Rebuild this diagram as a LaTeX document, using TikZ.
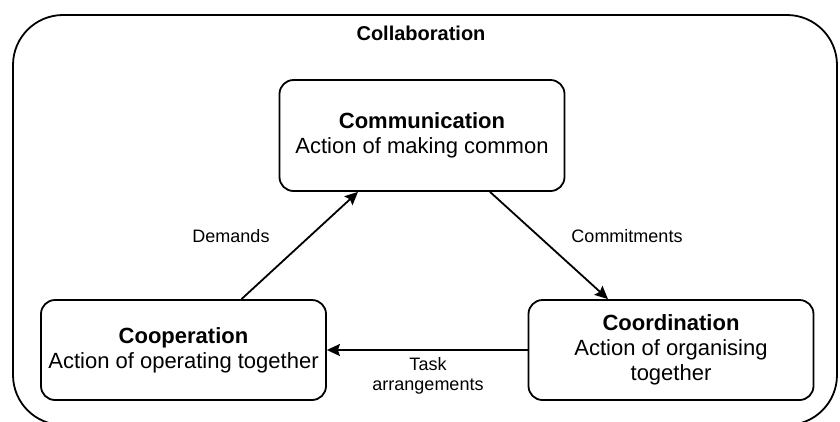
\documentclass[tikz,border=0pt]{standalone}
\usepackage{fontspec}
\setmainfont{Liberation Sans}
\usetikzlibrary{arrows.meta}

\tikzset{
  actbox/.style={draw, line width=1.8bp, rounded corners=14bp, align=center,
    minimum width=285bp, minimum height=100bp, inner sep=0pt,
    font=\fontsize{22bp}{25bp}\selectfont},
  flow/.style={line width=1.8bp, -{Stealth[length=13bp,width=12bp,inset=2bp]}},
  lbl/.style={align=center, font=\fontsize{18bp}{20bp}\selectfont}
}

\begin{document}
\begin{tikzpicture}[x=1bp,y=-1bp]
\useasboundingbox (0,0) rectangle (840,421);
% outer frame
\draw[line width=1.8bp, rounded corners=50bp] (13,15) rectangle (837,425);
\node[font=\bfseries\fontsize{20bp}{24bp}\selectfont] (collab) at (421,33) {Collaboration};

% the three actions
\node[actbox, minimum height=111bp] (comm) at (422,135.5) {\textbf{Communication}\\Action of making common};
\node[actbox] (coop) at (183.5,350) {\textbf{Cooperation}\\Action of operating together};
\node[actbox] (coord) at (671,350) {\textbf{Coordination}\\Action of organising\\together};

\draw[flow] ([xshift=58bp]coop.north) -- ([xshift=-64bp]comm.south);
\draw[flow] ([xshift=68bp]comm.south) -- ([xshift=-63bp]coord.north);
\draw[flow] (coord.west) -- (coop.east);

\node[lbl] (demands) at (231,236) {Demands};
\node[lbl] (commit) at (627,236) {Commitments};
\node[lbl] (task) at (428,376) {Task\\arrangements};
\end{tikzpicture}
\end{document}
